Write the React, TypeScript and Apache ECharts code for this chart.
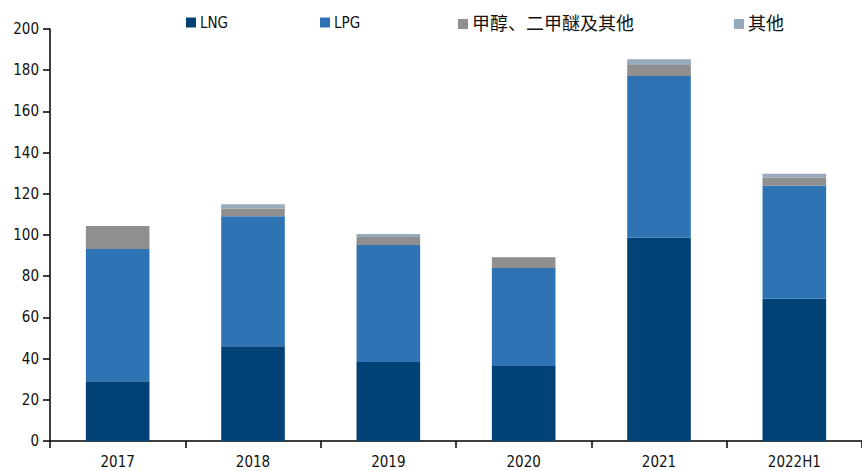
import React, { useEffect, useRef } from "react";
import * as echarts from "echarts";

const categories = ["2017", "2018", "2019", "2020", "2021", "2022H1"];
const lng = [29, 46, 38.3, 36.4, 98.7, 69];
const lpg = [64.2, 63.1, 56.8, 47.6, 78.5, 55];
const methanol = [11.2, 3.8, 3.9, 4.8, 5.3, 3.9];
const others = [0, 2, 1.5, 0.5, 2.8, 1.8];
const seriesNames = ["LNG", "LPG", "甲醇、二甲醚及其他", "其他"];
const colors = ["#004276", "#2E74B5", "#8F8F8F", "#97A9BD"];
const legendLefts = [181, 315, 453, 729];
const legendFontSizes = [15, 15, 18, 18];

const FONT = "'DejaVu Sans Condensed', 'Liberation Sans Narrow', 'Noto Sans CJK SC', sans-serif";
const CJK = "'DejaVu Sans Condensed', 'Noto Sans CJK SC', sans-serif";

export default function App() {
  const ref = useRef<HTMLDivElement>(null);
  useEffect(() => {
    document.body.style.margin = "0";
    const chart = echarts.init(ref.current!, undefined, { renderer: "svg" });
    const dataSets = [lng, lpg, methanol, others];
    chart.setOption({
      animation: false,
      textStyle: { fontFamily: FONT },
      legend: seriesNames.map((n, i) => ({
        data: [n],
        left: legendLefts[i],
        top: 10,
        height: 24,
        itemWidth: 10,
        itemHeight: 10,
        itemGap: 4,
        icon: "rect",
        textStyle: { fontSize: legendFontSizes[i], color: "#111", fontFamily: CJK, padding: [0, 0, 0, -1] },
      })),
      grid: { left: 50, right: -9, top: 29, bottom: 30, containLabel: false },
      xAxis: {
        type: "category",
        data: categories,
        axisLine: { lineStyle: { color: "#000", width: 1.5 } },
        axisTick: { show: true, length: 7, alignWithLabel: false, lineStyle: { color: "#000", width: 1.5 } },
        axisLabel: { fontSize: 15, color: "#111", margin: 13, fontFamily: FONT },
      },
      yAxis: {
        type: "value",
        min: 0,
        max: 200,
        interval: 20,
        splitLine: { show: false },
        axisLine: { show: true, lineStyle: { color: "#000", width: 1.5 } },
        axisTick: { show: true, inside: false, length: 7, lineStyle: { color: "#000", width: 1.5 } },
        axisLabel: { fontSize: 15, color: "#111", margin: 11, fontFamily: FONT },
      },
      series: seriesNames.map((n, i) => ({
        name: n,
        type: "bar",
        stack: "total",
        barWidth: "47%",
        data: dataSets[i],
        itemStyle: { color: colors[i] },
      })),
    });
    return () => chart.dispose();
  }, []);
  return <div ref={ref} style={{ width: 862, height: 471 }} />;
}
